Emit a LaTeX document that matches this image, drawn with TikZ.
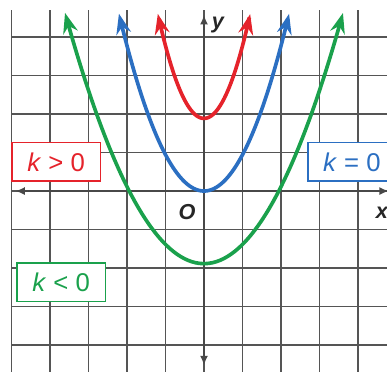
\documentclass[tikz,border=0pt]{standalone}
\usepackage{fontspec}
\setmainfont{Liberation Sans}
\usepackage{tikz}
\usetikzlibrary{arrows.meta}
\definecolor{curvered}{HTML}{E5232B}
\definecolor{curveblue}{HTML}{2B6FC2}
\definecolor{curvegreen}{HTML}{1AA14C}
\definecolor{gridink}{HTML}{555555}
\definecolor{axisink}{HTML}{484848}
\newcommand{\kcase}[2]{\textit{k}\hspace{0.28em}#1\hspace{0.28em}#2}

\begin{document}
\begin{tikzpicture}[
  x=1cm, y=0.943cm,
  gridline/.style={draw=gridink, line width=1.4pt},
  axis/.style={{Latex[length=7pt,width=6pt]}-{Latex[length=7pt,width=6pt]}, draw=axisink, line width=1.7pt},
  curve/.style={{Stealth[length=15pt,width=11pt,inset=5pt]}-{Stealth[length=15pt,width=11pt,inset=5pt]}, line width=2.7pt, samples=80, smooth},
  kbox/.style={draw, fill=white, line width=1.1pt, minimum width=2.29cm, minimum height=1.0cm, inner sep=0pt, font=\fontsize{19}{19}\selectfont},
  axislabel/.style={font=\bfseries\itshape\fontsize{16}{16}\selectfont, text=black!85, inner sep=0pt}
]
\clip (-5.299,-4.959) rectangle (4.753,5.262);
\fill[white] (-5.299,-4.959) rectangle (4.753,5.262);

% grid and axes
\draw[gridline] (-5,-5) grid (5,5);
\draw[axis] (-4.9,0) -- (4.8,0);
\draw[axis] (0,-4.8) -- (0,4.85);

\node[axislabel] (ylabel) at (0.36,4.57) {y};
\node[axislabel] (origin) at (-0.44,-0.58) {O};
\node[axislabel] (xlabel) at (4.62,-0.6) {x};

% parabolas
\draw[curve, curvegreen, domain=-3.61:3.61] plot (\x, {0.53*\x*\x-2});
\draw[curve, curveblue, domain=-2.21:2.21] plot (\x, {\x*\x});
\draw[curve, curvered, domain=-1.2:1.2] plot (\x, {2*\x*\x+2});

\node[kbox, draw=curvered, text=curvered] (kpos) at (-3.84,0.80) {\kcase{>}{0}};
\node[kbox, draw=curveblue, text=curveblue] (kzero) at (3.84,0.80) {\kcase{=}{0}};
\node[kbox, draw=curvegreen, text=curvegreen] (kneg) at (-3.71,-2.51) {\kcase{<}{0}};

\end{tikzpicture}
\end{document}
